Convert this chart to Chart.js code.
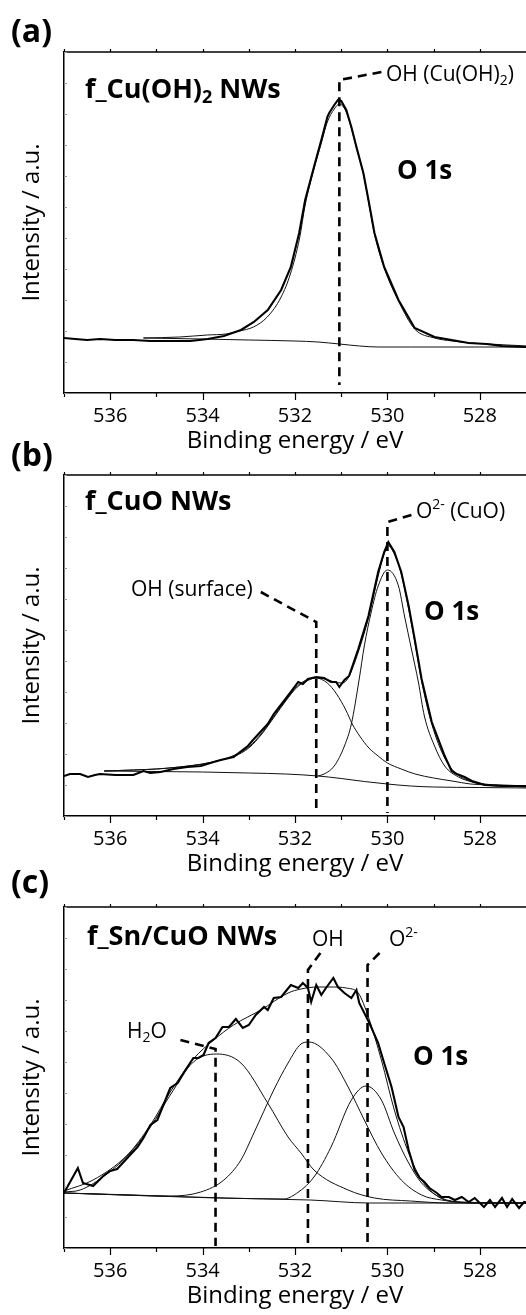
<!DOCTYPE html>
<html>
<head>
<meta charset="utf-8">
<script src="https://cdn.jsdelivr.net/npm/chart.js@4.4.0/dist/chart.umd.min.js"></script>
<style>
  html, body { margin: 0; padding: 0; background: #fff; }
  #wrap { position: relative; width: 526px; height: 1315px; overflow: hidden; background: #fff; }
  .panel { position: absolute; left: 0; width: 526px; height: 457px; }
  canvas { display: block; }
</style>
</head>
<body>
<div id="wrap">
  <div class="panel" style="top:0px"><canvas id="cA" width="526" height="457"></canvas></div>
  <div class="panel" style="top:423px"><canvas id="cB" width="526" height="457"></canvas></div>
  <div class="panel" style="top:855px"><canvas id="cC" width="526" height="457"></canvas></div>
</div>
<script>
// ---------- axis ticks ----------
const xTickValues = [536, 534, 532, 530, 528];
const xMinorValues = [537, 536, 535, 534, 533, 532, 531, 530, 529, 528, 527];
const yTickValues = [0, 31, 62, 93, 124, 155, 186, 217, 248, 279, 310, 341];

// ---------- (a) f_Cu(OH)2 NWs, O 1s ----------
const energyRawA = [537.0, 536.76, 536.50, 536.22, 535.89, 535.50, 535.13, 534.63, 534.26, 533.89,
  533.54, 533.17, 532.89, 532.59, 532.30, 532.09, 531.91, 531.78, 531.59, 531.43,
  531.30, 531.26, 531.15, 531.07, 531.00, 530.89, 530.78, 530.67, 530.52, 530.41,
  530.28, 530.07, 529.76, 529.41, 528.98, 528.61, 528.24, 527.85, 527.52, 527.02, 526.96];
const countsRawA = [55, 54, 53, 54, 53, 53, 52, 52, 52, 54,
  57, 63, 71, 83, 103, 126, 160, 193, 226, 253,
  276, 280, 288, 293, 292, 283, 266, 246, 220, 193,
  160, 126, 93, 65, 56, 53, 50, 49, 47, 46, 46];

const energyFitA = [535.28, 534.5, 533.9, 533.5, 533.2, 532.9, 532.6, 532.3, 532.1, 531.9,
  531.78, 531.6, 531.43, 531.3, 531.15, 531.04, 530.9, 530.78, 530.67, 530.52,
  530.41, 530.28, 530.07, 529.76, 529.41, 528.98, 528.6, 528.2, 527.8, 527.4, 526.96];
const countsFitA = [55, 56, 58, 59, 62, 66, 76, 96, 119, 155,
  188, 222, 250, 271, 284, 289, 282, 265, 245, 219,
  192, 159, 125, 92, 64, 55, 52, 50, 49, 48, 47];

const energyBgA = [535.28, 534.0, 533.0, 532.0, 531.5, 531.04, 530.6, 530.2, 529.5, 528.0, 526.96];
const countsBgA = [55, 54, 53, 52, 51, 49, 47, 46, 46, 46, 46];

const markerA_OH = [[530.13, 321], [531.04, 313], [531.04, 8]];

// ---------- (b) f_CuO NWs, O 1s ----------
const energyRawB = [537.0, 536.87, 536.65, 536.48, 536.33, 536.22, 535.89, 535.50, 535.28, 535.13,
  534.91, 534.63, 534.33, 534.04, 533.76, 533.61, 533.33, 533.02, 532.89, 532.59,
  532.46, 532.24, 532.09, 531.93, 531.83, 531.72, 531.54, 531.37, 531.22, 531.11,
  531.04, 530.93, 530.83, 530.63, 530.41, 530.20, 530.07, 529.98, 529.85, 529.70,
  529.54, 529.41, 529.26, 529.04, 528.76, 528.61, 528.50, 528.33, 528.17, 527.89,
  527.52, 527.02, 526.96];
const countsRawB = [40, 42, 42, 39, 41, 42, 41, 41, 45, 43,
  44, 47, 49, 50, 54, 56, 59, 70, 77, 92,
  102, 115, 124, 134, 132, 137, 139, 138, 134, 134,
  129, 136, 140, 167, 200, 244, 264, 274, 264, 244,
  210, 177, 137, 94, 60, 45, 42, 39, 35, 31,
  30, 30, 30];

const energyFitB = [536.13, 535.5, 535.0, 534.5, 534.0, 533.6, 533.3, 533.0, 532.7, 532.45,
  532.2, 531.95, 531.7, 531.55, 531.35, 531.15, 530.98, 530.85, 530.63, 530.41,
  530.2, 530.07, 529.98, 529.85, 529.7, 529.54, 529.41, 529.26, 529.04, 528.76,
  528.5, 528.2, 527.9, 527.5, 526.96];
const countsFitB = [45, 46, 47, 49, 52, 56, 61, 69, 84, 100,
  116, 130, 137, 138, 137, 134, 133, 138, 164, 198,
  240, 262, 270, 262, 242, 207, 175, 135, 92, 58,
  42, 35, 32, 31, 30];

const energyOHB = [536.13, 535.5, 535.0, 534.5, 534.0, 533.6, 533.3, 533.0, 532.7, 532.45,
  532.2, 531.95, 531.7, 531.55, 531.3, 531.1, 530.9, 530.76, 530.6, 530.4,
  530.2, 530.0, 529.7, 529.4, 529.0, 528.6, 528.2, 527.8, 527.4, 526.96];
const countsOHB = [45, 46, 47, 49, 52, 56, 60, 68, 83, 99,
  115, 129, 136, 138, 133, 122, 106, 92, 80, 68,
  60, 53, 47, 42, 38, 35, 32, 31, 30, 29];

const energyO2B = [531.5, 531.37, 531.15, 530.93, 530.78, 530.61, 530.5, 530.35, 530.2, 530.0,
  529.76, 529.63, 529.48, 529.33, 529.2, 528.98, 528.76, 528.46, 528.17, 527.9, 527.5, 526.96];
const countsO2B = [40, 42, 50, 70, 92, 137, 170, 204, 230, 246,
  230, 200, 167, 134, 100, 70, 50, 39, 34, 31, 30, 29];

const energyBgB = [536.13, 535.0, 534.0, 533.0, 532.2, 531.5, 531.0, 530.5, 530.0, 529.5, 529.0, 528.0, 526.96];
const countsBgB = [45, 44.5, 44, 43, 42, 40, 37.5, 34.5, 32, 30, 29, 28.5, 28];

const markerB_O2 = [[529.48, 301], [530.0, 294], [530.0, 3]];
const markerB_OH = [[532.74, 224], [531.54, 194], [531.54, 3]];

// ---------- (c) f_Sn/CuO NWs, O 1s ----------
const energyRawC = [537.0, 536.70, 536.59, 536.37, 536.15, 536.0, 535.85, 535.63, 535.41, 535.28,
  535.13, 534.98, 534.91, 534.70, 534.54, 534.37, 534.20, 534.09, 533.98, 533.87,
  533.72, 533.57, 533.43, 533.28, 533.13, 533.0, 532.85, 532.67, 532.59, 532.46,
  532.30, 532.09, 531.93, 531.83, 531.72, 531.65, 531.54, 531.43, 531.33, 531.17,
  531.07, 530.93, 530.78, 530.67, 530.61, 530.50, 530.39, 530.20, 530.07, 529.91,
  529.76, 529.65, 529.54, 529.41, 529.30, 529.20, 529.09, 528.93, 528.83, 528.67,
  528.54, 528.39, 528.24, 528.11, 527.91, 527.78, 527.67, 527.52, 527.41, 527.30,
  527.15, 527.04, 526.93];
const countsRawC = [55, 80, 65, 62, 72, 77, 79, 90, 101, 110,
  123, 128, 136, 160, 165, 178, 190, 190, 193, 205,
  210, 221, 221, 229, 220, 223, 233, 241, 238, 250,
  251, 263, 260, 265, 260, 246, 263, 253, 260, 270,
  261, 255, 250, 258, 245, 235, 225, 205, 185, 161,
  131, 121, 98, 78, 70, 66, 60, 55, 51, 51,
  48, 51, 46, 50, 41, 48, 41, 50, 41, 49,
  40, 46, 45];

const energyFitC = [537.0, 536.37, 535.63, 535.13, 534.70, 534.20, 533.76, 533.33, 532.74, 532.15,
  531.87, 531.5, 531.22, 530.89, 530.63, 530.55, 530.41, 530.13, 529.85, 529.54,
  529.26, 528.89, 528.54, 527.96, 526.93];
const countsFitC = [57, 68, 93, 123, 156, 189, 208, 223, 238, 255,
  259, 261, 261, 260, 255, 248, 231, 188, 138, 95,
  68, 51, 46, 45, 45];

const energyH2OC = [537.0, 536.65, 536.07, 535.57, 535.13, 534.70, 534.20, 533.70, 533.17, 532.59,
  532.15, 531.87, 531.59, 530.85, 530.28, 529.5, 528.67, 526.93];
const countsH2OC = [56, 58, 74, 95, 121, 153, 186, 194, 185, 145,
  111, 95, 78, 58, 50, 47, 45, 45];

const energyOHC = [537.0, 535.5, 534.70, 534.04, 533.54, 533.17, 532.89, 532.46, 532.15, 531.87,
  531.70, 531.22, 530.85, 530.50, 530.13, 529.70, 529.26, 528.83, 528.0, 526.93];
const countsOHC = [55, 53, 52, 56, 68, 88, 115, 158, 185, 204,
  206, 190, 161, 128, 95, 68, 53, 48, 45, 45];

const energyO2C = [537.0, 533.5, 532.24, 532.02, 531.59, 531.22, 530.78, 530.46, 530.13, 529.85,
  529.54, 529.26, 528.83, 528.39, 526.93];
const countsO2C = [55, 50, 49, 53, 71, 101, 148, 162, 148, 115,
  85, 65, 50, 46, 45];

const energyBgC = [537.0, 533.70, 531.67, 530.39, 528.67, 526.93];
const countsBgC = [55, 50, 48, 45, 45, 45];

const markerC_H2O = [[534.48, 208], [533.72, 199], [533.72, 2]];
const markerC_OH = [[531.45, 295], [531.72, 278], [531.72, 3]];
const markerC_O2 = [[530.17, 295], [530.43, 283], [530.43, 3]];

// ---------- helpers ----------
const FONT = "'Open Sans', 'Noto Sans', 'DejaVu Sans', sans-serif";

function pts(es, vs) { return es.map((e, i) => ({ x: e, y: vs[i] })); }
function pairPts(arr) { return arr.map(p => ({ x: p[0], y: p[1] })); }

function rawSet(es, vs) {
  return { data: pts(es, vs), borderColor: '#000', borderWidth: 2.1, tension: 0, pointRadius: 0, order: 1 };
}
function fitSet(es, vs) {
  return { data: pts(es, vs), borderColor: '#111', borderWidth: 1, cubicInterpolationMode: 'monotone', pointRadius: 0, order: 2 };
}
function dashSet(arr) {
  return { data: pairPts(arr), borderColor: '#000', borderWidth: 2.6, borderDash: [9, 6], tension: 0, pointRadius: 0, order: 0 };
}

// text with sub/superscript segments
function drawRich(ctx, x, y, segs, size, weight) {
  let cx = x;
  ctx.textBaseline = 'middle';
  ctx.textAlign = 'left';
  ctx.fillStyle = '#000';
  for (const s of segs) {
    const small = s.sub || s.sup;
    const fs = small ? Math.round(size * 0.66) : size;
    ctx.font = `${weight} ${fs}px ${FONT}`;
    let dy = 0;
    if (s.sub) dy = size * 0.28;
    if (s.sup) dy = -size * 0.32;
    ctx.fillText(s.t, cx, y + dy);
    cx += ctx.measureText(s.t).width;
  }
}

// frame: top border, tick marks on bottom (outward), top (outward) and left (inward)
const framePlugin = {
  id: 'frameTicks',
  afterDraw(chart) {
    const { ctx, chartArea: a, scales: { x, y } } = chart;
    ctx.save();
    ctx.strokeStyle = '#000';
    ctx.lineWidth = 1.5;
    ctx.beginPath();
    ctx.moveTo(a.left - 0.75, a.top);
    ctx.lineTo(a.right, a.top);
    ctx.stroke();
    ctx.lineWidth = 1.2;
    for (const v of xMinorValues) {
      const px = Math.round(x.getPixelForValue(v)) + 0.5;
      if (px < a.left || px > a.right) continue;
      const major = xTickValues.includes(v);
      ctx.beginPath();
      ctx.moveTo(px, a.bottom);
      ctx.lineTo(px, a.bottom + (major ? 7 : 4));
      ctx.moveTo(px, a.top);
      ctx.lineTo(px, a.top - 3);
      ctx.stroke();
    }
    ctx.strokeStyle = '#9a9a9a';
    ctx.lineWidth = 1;
    for (const v of yTickValues) {
      const py = Math.round(y.getPixelForValue(v)) + 0.5;
      ctx.beginPath();
      ctx.moveTo(a.left, py);
      ctx.lineTo(a.left + 3, py);
      ctx.stroke();
    }
    ctx.restore();
  }
};

const textPlugin = {
  id: 'panelText',
  afterDraw(chart, args, opts) {
    const ctx = chart.ctx;
    ctx.save();
    for (const t of opts.items || []) drawRich(ctx, t.x, t.y, t.segs, t.size, t.weight);
    ctx.restore();
  }
};

function makePanel(id, datasets, items) {
  return new Chart(document.getElementById(id), {
    type: 'line',
    data: { datasets },
    options: {
      responsive: false,
      animation: false,
      devicePixelRatio: 1,
      layout: { padding: { top: 52, left: 0, right: 0, bottom: 0 } },
      plugins: { legend: { display: false }, tooltip: { enabled: false }, panelText: { items } },
      scales: {
        x: {
          type: 'linear', reverse: true, min: 527, max: 537,
          afterBuildTicks: s => { s.ticks = xTickValues.map(v => ({ value: v })); },
          ticks: { color: '#000', font: { family: FONT, size: 20 }, padding: 11, maxRotation: 0, callback: v => String(v) },
          grid: { display: false, drawTicks: false },
          border: { display: true, color: '#000', width: 1.5 },
          title: { display: true, text: 'Binding energy / eV', color: '#000', font: { family: FONT, size: 24 }, padding: { top: 0, bottom: 1 } },
          afterFit: s => { s.height = 64; }
        },
        y: {
          type: 'linear', min: 0, max: 341,
          afterBuildTicks: s => { s.ticks = yTickValues.map(v => ({ value: v })); },
          ticks: { display: false },
          grid: { display: false, drawTicks: false },
          border: { display: true, color: '#000', width: 1.5 },
          title: { display: true, text: 'Intensity / a.u.', color: '#000', font: { family: FONT, size: 24 }, padding: { top: 18, bottom: 0 } },
          afterFit: s => { s.width = 64; }
        }
      }
    },
    plugins: [framePlugin, textPlugin]
  });
}

const BOLD = 'bold', REG = 'normal';

makePanel('cA', [
  rawSet(energyRawA, countsRawA),
  fitSet(energyFitA, countsFitA),
  fitSet(energyBgA, countsBgA),
  dashSet(markerA_OH)
], [
  { x: 11, y: 33, size: 32, weight: BOLD, segs: [{ t: '(a)' }] },
  { x: 85, y: 90, size: 27, weight: BOLD, segs: [{ t: 'f_Cu(OH)' }, { t: '2', sub: true }, { t: ' NWs' }] },
  { x: 397, y: 172, size: 26, weight: BOLD, segs: [{ t: 'O 1s' }] },
  { x: 386, y: 75, size: 21, weight: REG, segs: [{ t: 'OH (Cu(OH)' }, { t: '2', sub: true }, { t: ')' }] }
]);

makePanel('cB', [
  rawSet(energyRawB, countsRawB),
  fitSet(energyFitB, countsFitB),
  fitSet(energyOHB, countsOHB),
  fitSet(energyO2B, countsO2B),
  fitSet(energyBgB, countsBgB),
  dashSet(markerB_O2),
  dashSet(markerB_OH)
], [
  { x: 11, y: 34, size: 32, weight: BOLD, segs: [{ t: '(b)' }] },
  { x: 85, y: 79, size: 27, weight: BOLD, segs: [{ t: 'f_CuO NWs' }] },
  { x: 424, y: 190, size: 26, weight: BOLD, segs: [{ t: 'O 1s' }] },
  { x: 416, y: 89, size: 21, weight: REG, segs: [{ t: 'O' }, { t: '2-', sup: true }, { t: ' (CuO)' }] },
  { x: 131, y: 167, size: 21, weight: REG, segs: [{ t: 'OH (surface)' }] }
]);

makePanel('cC', [
  rawSet(energyRawC, countsRawC),
  fitSet(energyFitC, countsFitC),
  fitSet(energyH2OC, countsH2OC),
  fitSet(energyOHC, countsOHC),
  fitSet(energyO2C, countsO2C),
  fitSet(energyBgC, countsBgC),
  dashSet(markerC_H2O),
  dashSet(markerC_OH),
  dashSet(markerC_O2)
], [
  { x: 11, y: 29, size: 32, weight: BOLD, segs: [{ t: '(c)' }] },
  { x: 87, y: 82, size: 27, weight: BOLD, segs: [{ t: 'f_Sn/CuO NWs' }] },
  { x: 413, y: 203, size: 26, weight: BOLD, segs: [{ t: 'O 1s' }] },
  { x: 312, y: 85, size: 21, weight: REG, segs: [{ t: 'OH' }] },
  { x: 389, y: 85, size: 21, weight: REG, segs: [{ t: 'O' }, { t: '2-', sup: true }] },
  { x: 127, y: 177, size: 21, weight: REG, segs: [{ t: 'H' }, { t: '2', sub: true }, { t: 'O' }] }
]);
</script>
</body>
</html>
